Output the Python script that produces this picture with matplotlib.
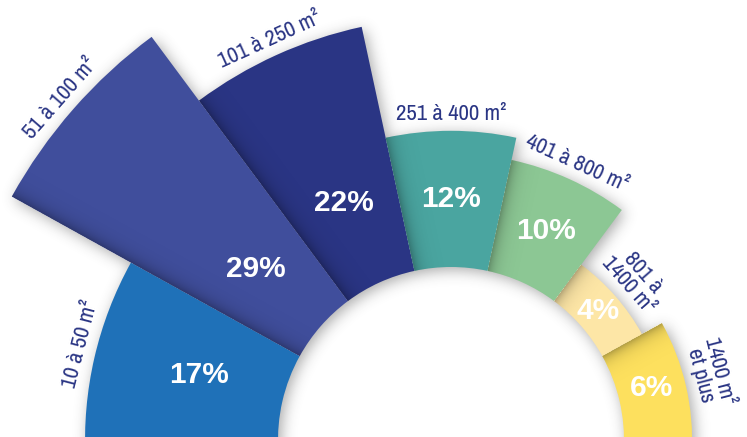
import numpy as np
import matplotlib
matplotlib.use("Agg")
import matplotlib.pyplot as plt
from matplotlib.patches import Wedge
from matplotlib import font_manager

# ---------------- data ----------------
categories = ["10 à 50 m²", "51 à 100 m²", "101 à 250 m²", "251 à 400 m²",
              "401 à 800 m²", "801 à\n1400 m²", "1400 m²\net plus"]
values = [17, 29, 22, 12, 10, 4, 6]
value_labels = ["17%", "29%", "22%", "12%", "10%", "4%", "6%"]
colors = ["#1f71b8", "#404e9c", "#2a3584", "#4aa5a0", "#8cc794", "#fde6a6", "#fde05e"]

# ---------------- layout ----------------
W, H = 747, 437
CX, CY = 451.0, 0.0      # centre of the half ring (data units = pixels)
Y0 = 3.0                  # data y of the bottom edge of the picture
R_IN = 173.0              # inner radius
K = 11.35                 # pixels per percent
MID_W = 24.4              # angular width of inner sectors (deg)
LABEL_COLOR = "#2a3584"


# pick an upright narrow font if one is installed
def _rank(f):
    nm = f.name + " " + f.fname
    if "Narrow" in nm:
        return 0
    if "Condensed" in nm or f.stretch in ("condensed", "semi-condensed"):
        return 1
    return 9


def _w(f):
    try:
        return abs(int(f.weight) - 450)
    except Exception:
        return 0 if str(f.weight) in ("normal", "regular", "medium") else 300


cands = [f for f in font_manager.fontManager.ttflist
         if f.style == "normal" and _rank(f) < 9
         and "Oblique" not in f.fname and "Italic" not in f.fname]
cands.sort(key=lambda f: (_rank(f), _w(f)))
NARROW = cands[0] if cands else None

n = len(values)
r_out = [R_IN + K * v for v in values]
bounds = [90 + (n / 2 - j) * MID_W for j in range(1, n)]
hi = [183.0] + bounds
lo = bounds + [-3.0]
mids = [(min(h, 180) + max(l, 0)) / 2 for h, l in zip(hi, lo)]

fig = plt.figure(figsize=(W / 100, H / 100), dpi=100)
ax = fig.add_axes([0, 0, 1, 1])
ax.set_xlim(0, W)
ax.set_ylim(Y0, Y0 + H)
ax.axis("off")

# ---------------- raster helpers (shadows) ----------------
PAD = 60
xs = np.arange(-PAD, W + PAD) + 0.5
rows = np.arange(-PAD, H + PAD) + 0.5
X, Yimg = np.meshgrid(xs, rows)
Yd = (H + Y0) - Yimg
DX, DY = X - CX, Yd - CY
R = np.hypot(DX, DY)
TH = np.degrees(np.arctan2(DY, DX))
TH = np.where(TH < -90, TH + 360, TH)
extent = (-PAD, W + PAD, (H + Y0) - (H + PAD), (H + Y0) + PAD)

mask = np.zeros_like(R)
for j in range(n):
    inside = (TH >= lo[j]) & (TH < hi[j]) & (R >= R_IN) & (R <= r_out[j])
    mask[inside] = 1.0


def blur(a, sigma):
    rad = int(3 * sigma)
    t = np.arange(-rad, rad + 1)
    k = np.exp(-t ** 2 / (2 * sigma ** 2))
    k /= k.sum()
    a = np.apply_along_axis(lambda m: np.convolve(m, k, mode="same"), 0, a)
    a = np.apply_along_axis(lambda m: np.convolve(m, k, mode="same"), 1, a)
    return a


sh = np.roll(np.roll(mask, 3, axis=0), 3, axis=1)
sh = blur(sh, 7)
rgba = np.zeros(sh.shape + (4,))
rgba[..., :3] = 0.25
rgba[..., 3] = np.clip(sh * 0.45, 0, 1)
ax.imshow(rgba, extent=extent, origin="upper", interpolation="bilinear", zorder=1, aspect="auto")

# ---------------- sectors ----------------
for j in range(n):
    wdg = Wedge((CX, CY), r_out[j], lo[j], hi[j], width=r_out[j] - R_IN,
                facecolor=colors[j], edgecolor="none", zorder=2)
    ax.add_patch(wdg)
    if j > 0:
        d = R * np.sin(np.radians(hi[j] - TH))
        a = np.where(d >= 0, 0.30 * np.exp(-np.clip(d, 0, None) / 7.0), 0)
        ov = np.zeros(R.shape + (4,))
        ov[..., 3] = a
        im = ax.imshow(ov, extent=extent, origin="upper", interpolation="bilinear",
                       zorder=3, aspect="auto")
        clip = Wedge((CX, CY), r_out[j], lo[j], hi[j], width=r_out[j] - R_IN,
                     transform=ax.transData, facecolor="none", edgecolor="none")
        im.set_clip_path(clip)

ax.set_xlim(0, W)
ax.set_ylim(Y0, Y0 + H)

# ---------------- labels ----------------
if NARROW is not None:
    size = 16.5 if "Narrow" in (NARROW.name + NARROW.fname) else 14.5
    lab_font = dict(fontproperties=font_manager.FontProperties(fname=NARROW.fname, size=size))
else:
    lab_font = dict(fontsize=13, family=["DejaVu Sans"])

for j in range(n):
    m = np.radians(mids[j])
    rl = min((R_IN + r_out[j]) / 2, 260)
    ax.text(CX + rl * np.cos(m), CY + rl * np.sin(m), value_labels[j],
            color="white", fontsize=21.5, fontweight="bold",
            family=["Liberation Sans", "DejaVu Sans"],
            ha="center", va="center", zorder=5)
    rc = r_out[j] + 7
    ax.text(CX + rc * np.cos(m), CY + rc * np.sin(m), categories[j],
            color=LABEL_COLOR,
            rotation=mids[j] - 90, rotation_mode="anchor",
            ha="center", va="bottom", multialignment="center",
            linespacing=0.95, zorder=5, **lab_font)

fig.savefig("out.png", dpi=100)
